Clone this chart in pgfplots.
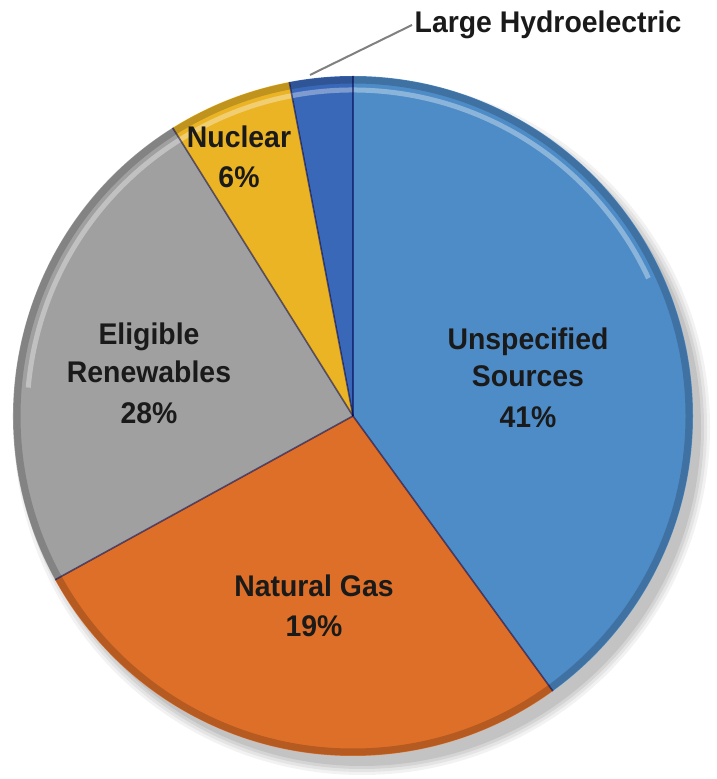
\documentclass[border=0pt]{standalone}
\usepackage{pgfplots}
\pgfplotsset{compat=1.18}
\usepackage{pgfplotstable}
\usepackage{fontspec}
\setmainfont{Liberation Sans}[FakeStretch=0.95]

\definecolor{cUnspec}{HTML}{4E8CC7}
\definecolor{cGas}{HTML}{DE6F29}
\definecolor{cRenew}{HTML}{A0A0A0}
\definecolor{cNuc}{HTML}{EBB425}
\definecolor{cHydro}{HTML}{3A68B8}
\definecolor{ctext}{HTML}{1A1A1A}

% visual shares of the pie (percent of the full circle), clockwise from 12 o'clock
\pgfplotstableread{
source share
Unspecified 40.0
NaturalGas 27.0
Renewables 24.1
Nuclear 5.9
Hydro 3.0
}\piedata
\pgfplotstablegetelem{0}{share}\of\piedata\xdef\sA{\pgfplotsretval}%
\pgfplotstablegetelem{1}{share}\of\piedata\xdef\sB{\pgfplotsretval}%
\pgfplotstablegetelem{2}{share}\of\piedata\xdef\sC{\pgfplotsretval}%
\pgfplotstablegetelem{3}{share}\of\piedata\xdef\sD{\pgfplotsretval}%
\pgfplotstablegetelem{4}{share}\of\piedata\xdef\sE{\pgfplotsretval}%
\pgfmathsetmacro\aA{90}%
\pgfmathsetmacro\aB{\aA-3.6*\sA}%
\pgfmathsetmacro\aC{\aB-3.6*\sB}%
\pgfmathsetmacro\aD{\aC-3.6*\sC}%
\pgfmathsetmacro\aE{\aD-3.6*\sD}%
\pgfmathsetmacro\aF{\aE-3.6*\sE}%

\begin{document}
\begin{tikzpicture}
\begin{axis}[width=717bp, height=779bp, scale only axis,
  xmin=0, xmax=717, ymin=0, ymax=779, hide axis, clip=false]
% drop shadow
\fill[black, opacity=0.05] (axis cs:362,352) circle[radius=348bp];
\fill[black, opacity=0.06] (axis cs:362,352) circle[radius=345bp];
\fill[black, opacity=0.07] (axis cs:362,352) circle[radius=342bp];
\fill[black, opacity=0.08] (axis cs:362,352) circle[radius=339bp];
% slices
\fill[cUnspec] (axis cs:353,363) -- ++(\aA:340bp) arc[start angle=\aA, end angle=\aB, radius=340bp] -- cycle;
\fill[cGas] (axis cs:353,363) -- ++(\aB:340bp) arc[start angle=\aB, end angle=\aC, radius=340bp] -- cycle;
\fill[cRenew] (axis cs:353,363) -- ++(\aC:340bp) arc[start angle=\aC, end angle=\aD, radius=340bp] -- cycle;
\fill[cNuc] (axis cs:353,363) -- ++(\aD:340bp) arc[start angle=\aD, end angle=\aE, radius=340bp] -- cycle;
\fill[cHydro] (axis cs:353,363) -- ++(\aE:340bp) arc[start angle=\aE, end angle=\aF, radius=340bp] -- cycle;
% bevel: dark rim and top highlight
\draw[black, opacity=0.18, line width=7bp] (axis cs:353,363) circle[radius=336bp];
\draw[white, opacity=0.35, line width=5bp] (axis cs:353,363) ++(175:326bp) arc[start angle=175, end angle=25, radius=326bp];
% separators
\draw[black!70!blue, opacity=0.55, line width=1.6bp] (axis cs:353,363) -- ++(\aA:340bp);
\draw[black!70!blue, opacity=0.55, line width=1.6bp] (axis cs:353,363) -- ++(\aB:340bp);
\draw[black!70!blue, opacity=0.55, line width=1.6bp] (axis cs:353,363) -- ++(\aC:340bp);
\draw[black!70!blue, opacity=0.55, line width=1.6bp] (axis cs:353,363) -- ++(\aD:340bp);
\draw[black!70!blue, opacity=0.55, line width=1.6bp] (axis cs:353,363) -- ++(\aE:340bp);
% leader line
\draw[gray, line width=2bp] (axis cs:310,704) -- (axis cs:412,754);
% labels
\begin{scope}[every node/.style={anchor=base, text=ctext, inner sep=0pt, font=\fontsize{30}{38}\selectfont\bfseries}]
\node at (axis cs:548,746) {Large Hydroelectric};
\node at (axis cs:528,429) {Unspecified};
\node at (axis cs:528,392) {Sources};
\node at (axis cs:528,351) {41\%};
\node at (axis cs:314,182) {Natural Gas};
\node at (axis cs:314,142) {19\%};
\node at (axis cs:149,434) {Eligible};
\node at (axis cs:149,396) {Renewables};
\node at (axis cs:149,355) {28\%};
\node at (axis cs:239,631) {Nuclear};
\node at (axis cs:239,591) {6\%};
\end{scope}
\end{axis}
\pgfresetboundingbox
\path[use as bounding box] (current axis.south west) rectangle (current axis.north east);
\end{tikzpicture}
\end{document}
